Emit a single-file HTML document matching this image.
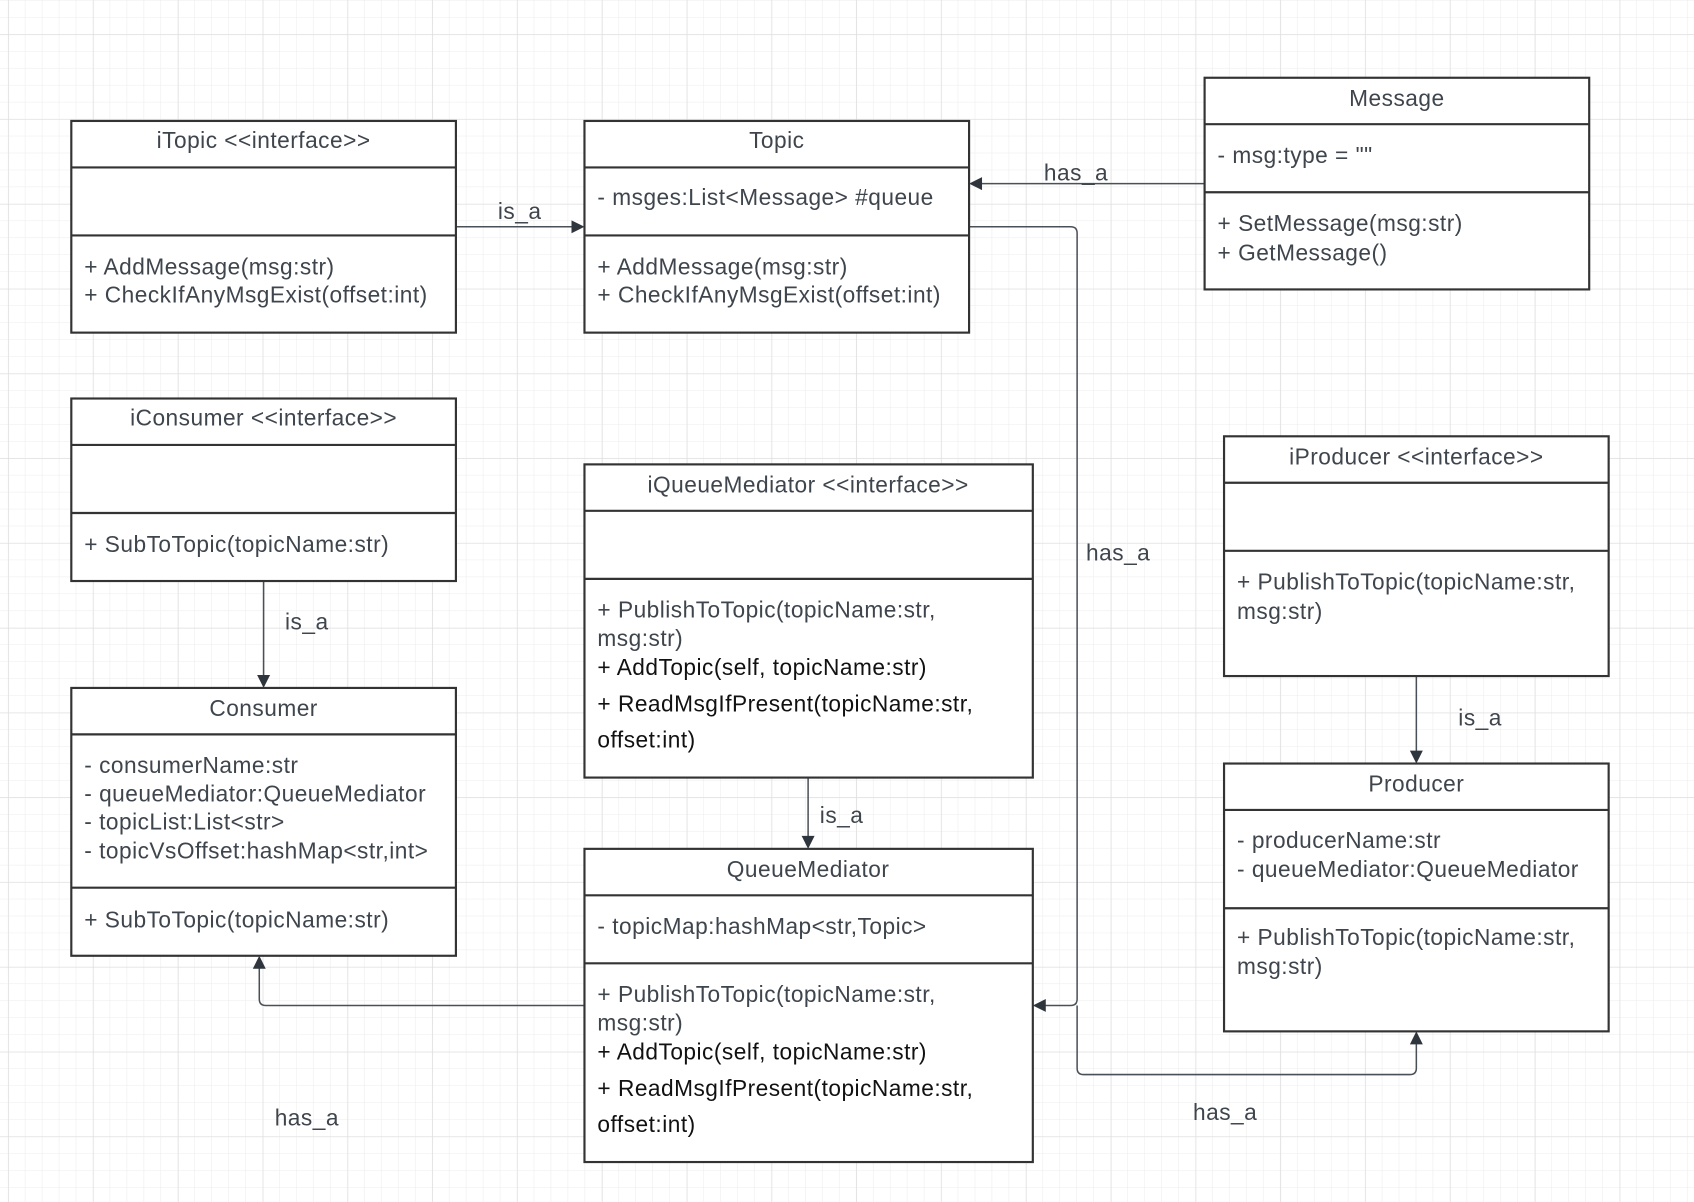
<!DOCTYPE html>
<html><head><meta charset="utf-8"><style>
html,body{margin:0;padding:0;background:#fff;}
svg{display:block;}
text{font-family:"Liberation Sans",Arial,sans-serif;font-size:21px;letter-spacing:0.45px;fill:#3f454d;}
.t{text-anchor:middle;}
.b{fill:#111;}
.box rect{fill:#fff;stroke:#333;stroke-width:2;}
.box line{stroke:#333;stroke-width:2;}
.c{fill:none;stroke:#4a5058;stroke-width:1.4;}
.ah{fill:#2f353d;}
</style></head><body>
<svg width="1694" height="1202" viewBox="0 0 1568 1113" preserveAspectRatio="none" xmlns="http://www.w3.org/2000/svg">
<defs>
<pattern id="minor" width="15.7" height="15.7" patternUnits="userSpaceOnUse" x="7.8" y="32">
<path d="M15.7 0V15.7M0 15.7H15.7" stroke="#ececec" stroke-width="1" fill="none"/></pattern>
<pattern id="major" width="78.5" height="78.5" patternUnits="userSpaceOnUse" x="7.8" y="32">
<path d="M0 0V78.5M0 0H78.5" stroke="#dcdcdc" stroke-width="1" fill="none"/></pattern>
</defs>
<rect width="1568" height="1113" fill="#fff"/>
<rect width="1568" height="1113" fill="url(#minor)"/>
<rect width="1568" height="1113" fill="url(#major)"/>

<!-- connectors -->
<path class="c" d="M422 210H531"/><path class="ah" d="M541 210l-12-6v12z"/>
<text x="481" y="203" class="t">is_a</text>
<path class="c" d="M1115 170H907"/><path class="ah" d="M897 170l12-6v12z"/>
<text x="996" y="167" class="t">has_a</text>
<path class="c" d="M897 210H991q6 0 6 6V925q0 6 -6 6H966"/><path class="ah" d="M956 931l12-6v12z"/>
<text x="1035" y="519" class="t">has_a</text>
<path class="c" d="M244 538V627"/><path class="ah" d="M244 637l-6-12h12z"/>
<text x="284" y="583" class="t">is_a</text>
<path class="c" d="M748 720V776"/><path class="ah" d="M748 786l-6-12h12z"/>
<text x="779" y="762" class="t">is_a</text>
<path class="c" d="M1311 626V697"/><path class="ah" d="M1311 707l-6-12h12z"/>
<text x="1370" y="672" class="t">is_a</text>
<path class="c" d="M541 931H246q-6 0 -6 -6V895"/><path class="ah" d="M240 885l-6 12h12z"/>
<text x="284" y="1042" class="t">has_a</text>
<path class="c" d="M997 931V989q0 6 6 6H1305q6 0 6 -6V965"/><path class="ah" d="M1311 955l-6 12h12z"/>
<text x="1134" y="1037" class="t">has_a</text>

<!-- iTopic -->
<g class="box"><rect x="66" y="112" width="356" height="196"/><line x1="66" y1="155" x2="422" y2="155"/><line x1="66" y1="218" x2="422" y2="218"/></g>
<text x="244" y="137" class="t">iTopic &lt;&lt;interface&gt;&gt;</text>
<text x="78" y="254">+ AddMessage(msg:str)</text>
<text x="78" y="280">+ CheckIfAnyMsgExist(offset:int)</text>

<!-- Topic -->
<g class="box"><rect x="541" y="112" width="356" height="196"/><line x1="541" y1="155" x2="897" y2="155"/><line x1="541" y1="218" x2="897" y2="218"/></g>
<text x="719" y="137" class="t">Topic</text>
<text x="553" y="190">- msges:List&lt;Message&gt; #queue</text>
<text x="553" y="254">+ AddMessage(msg:str)</text>
<text x="553" y="280">+ CheckIfAnyMsgExist(offset:int)</text>

<!-- Message -->
<g class="box"><rect x="1115" y="72" width="356" height="196"/><line x1="1115" y1="115" x2="1471" y2="115"/><line x1="1115" y1="178" x2="1471" y2="178"/></g>
<text x="1293" y="98" class="t">Message</text>
<text x="1127" y="151">- msg:type = ""</text>
<text x="1127" y="214">+ SetMessage(msg:str)</text>
<text x="1127" y="241">+ GetMessage()</text>

<!-- iConsumer -->
<g class="box"><rect x="66" y="369" width="356" height="169"/><line x1="66" y1="412" x2="422" y2="412"/><line x1="66" y1="475" x2="422" y2="475"/></g>
<text x="244" y="394" class="t">iConsumer &lt;&lt;interface&gt;&gt;</text>
<text x="78" y="511">+ SubToTopic(topicName:str)</text>

<!-- Consumer -->
<g class="box"><rect x="66" y="637" width="356" height="248"/><line x1="66" y1="680" x2="422" y2="680"/><line x1="66" y1="822" x2="422" y2="822"/></g>
<text x="244" y="663" class="t">Consumer</text>
<text x="78" y="716">- consumerName:str</text>
<text x="78" y="742">- queueMediator:QueueMediator</text>
<text x="78" y="768">- topicList:List&lt;str&gt;</text>
<text x="78" y="795">- topicVsOffset:hashMap&lt;str,int&gt;</text>
<text x="78" y="859">+ SubToTopic(topicName:str)</text>

<!-- iQueueMediator -->
<g class="box"><rect x="541" y="430" width="415" height="290"/><line x1="541" y1="473" x2="956" y2="473"/><line x1="541" y1="536" x2="956" y2="536"/></g>
<text x="748" y="456" class="t">iQueueMediator &lt;&lt;interface&gt;&gt;</text>
<text x="553" y="572">+ PublishToTopic(topicName:str,</text>
<text x="553" y="598">msg:str)</text>
<text x="553" y="625" class="b">+ AddTopic(self, topicName:str)</text>
<text x="553" y="659" class="b">+ ReadMsgIfPresent(topicName:str,</text>
<text x="553" y="692" class="b">offset:int)</text>

<!-- QueueMediator -->
<g class="box"><rect x="541" y="786" width="415" height="290"/><line x1="541" y1="829" x2="956" y2="829"/><line x1="541" y1="892" x2="956" y2="892"/></g>
<text x="748" y="812" class="t">QueueMediator</text>
<text x="553" y="865">- topicMap:hashMap&lt;str,Topic&gt;</text>
<text x="553" y="928">+ PublishToTopic(topicName:str,</text>
<text x="553" y="954">msg:str)</text>
<text x="553" y="981" class="b">+ AddTopic(self, topicName:str)</text>
<text x="553" y="1015" class="b">+ ReadMsgIfPresent(topicName:str,</text>
<text x="553" y="1048" class="b">offset:int)</text>

<!-- iProducer -->
<g class="box"><rect x="1133" y="404" width="356" height="222"/><line x1="1133" y1="447" x2="1489" y2="447"/><line x1="1133" y1="510" x2="1489" y2="510"/></g>
<text x="1311" y="430" class="t">iProducer &lt;&lt;interface&gt;&gt;</text>
<text x="1145" y="546">+ PublishToTopic(topicName:str,</text>
<text x="1145" y="573">msg:str)</text>

<!-- Producer -->
<g class="box"><rect x="1133" y="707" width="356" height="248"/><line x1="1133" y1="750" x2="1489" y2="750"/><line x1="1133" y1="841" x2="1489" y2="841"/></g>
<text x="1311" y="733" class="t">Producer</text>
<text x="1145" y="785">- producerName:str</text>
<text x="1145" y="812">- queueMediator:QueueMediator</text>
<text x="1145" y="875">+ PublishToTopic(topicName:str,</text>
<text x="1145" y="902">msg:str)</text>
</svg>
</body></html>
